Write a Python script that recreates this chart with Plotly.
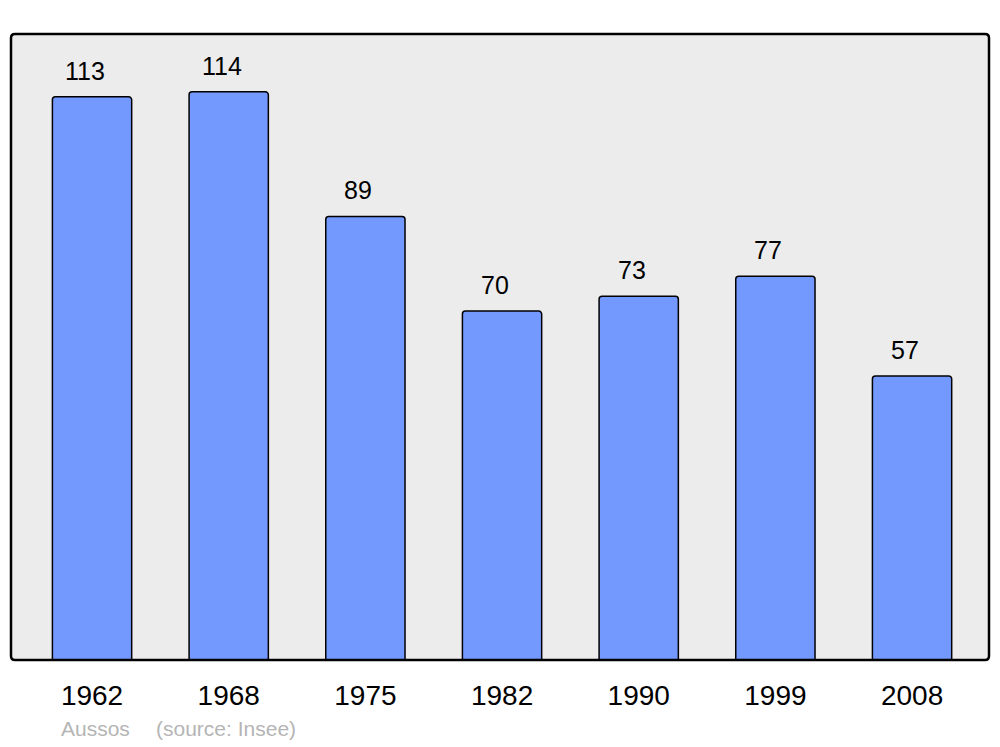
import plotly.graph_objects as go

years = ["1962", "1968", "1975", "1982", "1990", "1999", "2008"]
population = [113, 114, 89, 70, 73, 77, 57]

positions = list(range(len(years)))

fig = go.Figure()

fig.add_trace(
    go.Bar(
        x=positions,
        y=population,
        width=0.58,
        marker=dict(color="#7399ff", line=dict(color="black", width=1.5), cornerradius=3),
        hoverinfo="skip",
    )
)

# value labels above bars
for i, v in zip(positions, population):
    fig.add_annotation(
        x=i, y=v, text=str(v), showarrow=False,
        yanchor="bottom", yshift=10, xshift=-7,
        font=dict(family="Liberation Sans, Arial", size=25, color="black"),
    )

# rounded plot frame
rx, ry = 4 / 978, 4 / 626
frame = (
    f"M {rx},0 L {1 - rx},0 Q 1,0 1,{ry} L 1,{1 - ry} Q 1,1 {1 - rx},1 "
    f"L {rx},1 Q 0,1 0,{1 - ry} L 0,{ry} Q 0,0 {rx},0 Z"
)
fig.add_shape(type="path", path=frame, xref="paper", yref="paper",
              line=dict(color="black", width=2.5), layer="above")

footer_font = dict(family="Liberation Sans, Arial", size=21, color="#b5b5b5")
fig.add_annotation(x=48 / 978, y=-0.110, xref="paper", yref="paper", text="Aussos",
                   showarrow=False, xanchor="left", yanchor="middle", font=footer_font)
fig.add_annotation(x=143 / 978, y=-0.110, xref="paper", yref="paper", text="(source: Insee)",
                   showarrow=False, xanchor="left", yanchor="middle", font=footer_font)

fig.update_layout(
    width=1000,
    height=747,
    margin=dict(l=11, r=11, t=34, b=87),
    paper_bgcolor="white",
    plot_bgcolor="#ececec",
    showlegend=False,
    xaxis=dict(
        range=[-0.593, 6.563],
        tickvals=positions,
        ticktext=years,
        ticks="outside",
        ticklen=10,
        tickcolor="rgba(0,0,0,0)",
        showgrid=False,
        zeroline=False,
        tickfont=dict(family="Liberation Sans, Arial", size=28, color="black"),
    ),
    yaxis=dict(
        range=[0, 125.6],
        showgrid=False,
        zeroline=False,
        showticklabels=False,
    ),
)

fig.write_html("out.html", config={"displayModeBar": False},
               post_script="document.body.style.margin='0';")
